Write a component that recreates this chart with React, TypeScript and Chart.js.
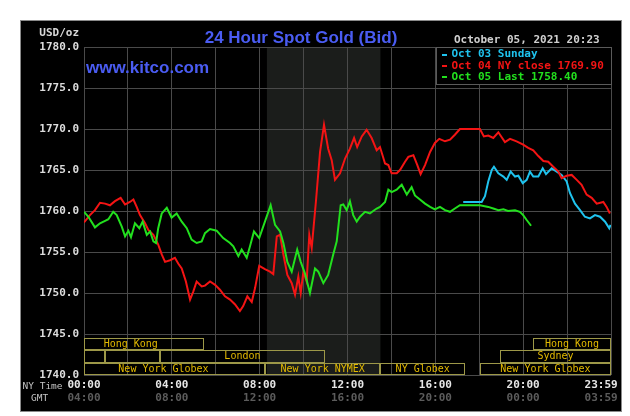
import React, { useEffect, useRef } from "react";
import { Chart, registerables } from "chart.js";

Chart.register(...registerables);

const titleText = "24 Hour Spot Gold (Bid)";
const siteText = "www.kitco.com";
const unitText = "USD/oz";
const stampText = "October 05, 2021 20:23";
const nyRowLabel = "NY Time";
const gmtRowLabel = "GMT";

const seriesLabels = ["Oct 03 Sunday", "Oct 04 NY close 1769.90", "Oct 05 Last 1758.40"];

// Oct 03 (Sunday evening session), hours in NY time
const oct03Hours = [17.27, 18.11, 18.26, 18.41, 18.57, 18.67, 18.87, 19.1, 19.25, 19.43, 19.63, 19.78, 19.98, 20.16, 20.31, 20.46, 20.69, 20.89, 21.04, 21.3, 21.53, 21.75, 21.98, 22.13, 22.36, 22.59, 22.81, 23.04, 23.27, 23.5, 23.73, 23.92, 23.98];
const oct03Values = [1761.1, 1761.1, 1761.8, 1763.6, 1765.0, 1765.4, 1764.6, 1764.2, 1763.8, 1764.8, 1764.2, 1764.3, 1763.4, 1763.8, 1764.8, 1764.2, 1764.2, 1765.2, 1764.5, 1765.2, 1764.8, 1764.4, 1763.6, 1762.2, 1760.9, 1760.1, 1759.3, 1759.1, 1759.5, 1759.3, 1758.7, 1757.9, 1758.3];

// Oct 04
const oct04Hours = [0.0, 0.27, 0.5, 0.73, 0.96, 1.18, 1.41, 1.67, 1.87, 2.09, 2.25, 2.4, 2.55, 2.78, 2.93, 3.16, 3.38, 3.54, 3.69, 3.92, 4.14, 4.29, 4.45, 4.64, 4.83, 4.98, 5.13, 5.36, 5.51, 5.74, 5.97, 6.19, 6.42, 6.65, 6.88, 7.1, 7.25, 7.44, 7.64, 7.79, 7.98, 8.24, 8.47, 8.62, 8.78, 8.93, 9.08, 9.26, 9.46, 9.61, 9.76, 9.87, 9.99, 10.14, 10.26, 10.37, 10.56, 10.75, 10.93, 11.12, 11.28, 11.43, 11.66, 11.89, 12.11, 12.3, 12.44, 12.65, 12.87, 13.1, 13.33, 13.48, 13.71, 13.86, 14.01, 14.24, 14.39, 14.62, 14.77, 15.0, 15.18, 15.33, 15.53, 15.76, 15.98, 16.18, 16.44, 16.67, 16.89, 17.12, 17.58, 18.03, 18.21, 18.41, 18.64, 18.87, 19.17, 19.4, 19.7, 20.0, 20.23, 20.46, 20.69, 20.92, 21.14, 21.37, 21.6, 21.75, 21.98, 22.21, 22.44, 22.66, 22.89, 23.12, 23.35, 23.65, 23.8, 23.95];
const oct04Values = [1758.6, 1759.5, 1760.1, 1761.0, 1760.9, 1760.7, 1761.2, 1761.6, 1760.8, 1761.1, 1761.4, 1760.5, 1759.5, 1758.5, 1757.7, 1757.1, 1755.9, 1754.7, 1753.8, 1754.0, 1754.3, 1753.6, 1753.0, 1751.4, 1749.2, 1750.2, 1751.4, 1750.8, 1750.9, 1751.4, 1751.0, 1750.4, 1749.6, 1749.2, 1748.6, 1747.8, 1748.4, 1749.6, 1748.9, 1750.6, 1753.3, 1752.9, 1752.6, 1752.3, 1756.9, 1757.1, 1754.7, 1752.2, 1751.2, 1749.8, 1752.0, 1750.0, 1752.6, 1751.4, 1757.1, 1755.5, 1761.1, 1767.2, 1770.5, 1767.6, 1766.2, 1763.8, 1764.6, 1766.4, 1767.6, 1768.9, 1767.8, 1769.1, 1769.9, 1768.9, 1767.4, 1767.8, 1765.8, 1765.6, 1764.6, 1764.6, 1765.0, 1766.0, 1766.6, 1766.8, 1765.6, 1764.5, 1765.6, 1767.2, 1768.3, 1768.8, 1768.5, 1768.7, 1769.3, 1770.0, 1770.0, 1770.0, 1769.1, 1769.2, 1768.9, 1769.6, 1768.4, 1768.8, 1768.5, 1768.1, 1767.7, 1767.4, 1766.7, 1766.1, 1766.0, 1765.4, 1764.8, 1764.0, 1764.3, 1764.4, 1763.8, 1763.2, 1762.0, 1761.6, 1760.9, 1761.1, 1760.5, 1759.7];

// Oct 05
const oct05Hours = [0.0, 0.2, 0.5, 0.73, 0.96, 1.11, 1.33, 1.49, 1.72, 1.87, 2.02, 2.14, 2.32, 2.52, 2.67, 2.86, 3.01, 3.16, 3.28, 3.38, 3.54, 3.77, 3.99, 4.22, 4.45, 4.68, 4.9, 5.13, 5.36, 5.51, 5.74, 6.04, 6.34, 6.65, 6.8, 7.03, 7.18, 7.41, 7.56, 7.74, 7.98, 8.24, 8.5, 8.7, 8.93, 9.08, 9.26, 9.46, 9.71, 9.87, 10.06, 10.29, 10.52, 10.67, 10.9, 11.12, 11.35, 11.51, 11.69, 11.81, 11.96, 12.11, 12.26, 12.42, 12.57, 12.8, 13.02, 13.17, 13.33, 13.48, 13.71, 13.86, 14.01, 14.24, 14.47, 14.7, 14.92, 15.07, 15.3, 15.53, 15.76, 15.98, 16.21, 16.44, 16.67, 16.89, 17.12, 17.58, 18.03, 18.41, 18.64, 18.87, 19.1, 19.31, 19.63, 19.85, 20.0, 20.16, 20.36];
const oct05Values = [1759.9, 1759.3, 1758.0, 1758.5, 1758.8, 1759.0, 1759.9, 1759.5, 1758.1, 1756.9, 1757.6, 1756.8, 1758.5, 1757.9, 1758.7, 1757.1, 1757.5, 1756.3, 1756.1, 1757.9, 1759.7, 1760.4, 1759.2, 1759.7, 1758.7, 1757.9, 1756.5, 1756.1, 1756.3, 1757.3, 1757.8, 1757.6, 1756.7, 1756.1, 1755.7, 1754.5, 1755.3, 1754.3, 1755.7, 1757.5, 1756.7, 1758.7, 1760.7, 1758.3, 1757.5, 1756.1, 1753.8, 1752.6, 1755.3, 1753.8, 1752.4, 1750.0, 1753.0, 1752.6, 1751.2, 1752.2, 1754.7, 1756.3, 1760.7, 1760.8, 1760.1, 1761.2, 1759.5, 1758.7, 1759.3, 1759.9, 1759.7, 1760.0, 1760.3, 1760.5, 1761.1, 1762.6, 1762.3, 1762.6, 1763.2, 1762.0, 1762.9, 1761.9, 1761.4, 1760.9, 1760.5, 1760.2, 1760.5, 1760.1, 1759.9, 1760.3, 1760.7, 1760.7, 1760.7, 1760.5, 1760.3, 1760.1, 1760.2, 1760.0, 1760.1, 1759.9, 1759.5, 1758.9, 1758.2];

// axis
const yMin = 1740;
const yMax = 1780;
const yStep = 5;
const hourMin = 0;
const hourMax = 24;
const gridStepHours = 2;
const tickHours = [0, 4, 8, 12, 16, 20, 24];
const nyTickLabels = ["00:00", "04:00", "08:00", "12:00", "16:00", "20:00", "23:59"];
const gmtTickLabels = ["04:00", "08:00", "12:00", "16:00", "20:00", "00:00", "03:59"];

// NYMEX floor session (shaded)
const nymexStart = 8.33;
const nymexEnd = 13.5;

// market sessions (hours NY time; may extend before the day start)
const sessionNames = ["Hong Kong", "Hong Kong", "", "", "London", "Sydney", "New York Globex", "New York NYMEX", "NY Globex", "New York Globex"];
const sessionStarts = [-1.2, 20.45, -1.0, 0.96, 3.46, 18.94, -1.0, 8.24, 13.5, 18.03];
const sessionEnds = [5.46, 24, 0.96, 3.46, 10.97, 24, 8.24, 13.5, 17.35, 24];
const sessionRows = [0, 0, 1, 1, 1, 1, 2, 2, 2, 2];

const CYAN = "#1fc3ee";
const RED = "#f41414";
const GREEN = "#22e01e";
const GRID = "#4a4a4a";
const MONO = "'DejaVu Sans Mono', monospace";
const SANS = "'Liberation Sans', Arial, sans-serif";

const zip = (xs: number[], ys: number[]) => xs.map((x, i) => ({ x, y: ys[i] }));

const chromePlugin = {
  id: "kitcoChrome",
  beforeDraw(chart: any) {
    const { ctx, chartArea: a, scales } = chart;
    ctx.save();
    ctx.fillStyle = "#ffffff";
    ctx.fillRect(0, 0, chart.width, chart.height);
    ctx.fillStyle = "#000000";
    ctx.fillRect(21, 21, 600, 390);
    ctx.strokeStyle = "#8a8a8a";
    ctx.lineWidth = 1;
    ctx.strokeRect(20.5, 20.5, 601, 391);
    const x0 = scales.x.getPixelForValue(nymexStart);
    const x1 = scales.x.getPixelForValue(nymexEnd);
    ctx.fillStyle = "#1b1d1b";
    ctx.fillRect(x0, a.top, x1 - x0, a.bottom - a.top);
    ctx.restore();
  },
  beforeDatasetsDraw(chart: any) {
    const { ctx, chartArea: a, scales } = chart;
    const rowH = 12.5;
    ctx.save();
    ctx.lineWidth = 1;
    ctx.font = `10px ${MONO}`;
    ctx.textAlign = "center";
    ctx.textBaseline = "middle";
    sessionNames.forEach((name, i) => {
      const r = sessionRows[i];
      const top = a.bottom - (3 - r) * rowH;
      const l = scales.x.getPixelForValue(Math.max(sessionStarts[i], hourMin));
      const rr = scales.x.getPixelForValue(Math.min(sessionEnds[i], hourMax));
      const yt = Math.round(top) + 0.5;
      const yb = Math.round(top + rowH) - 0.5;
      ctx.strokeStyle = "#9d9848";
      ctx.strokeRect(Math.round(l) + 0.5, yt, Math.round(rr) - Math.round(l) - 1, yb - yt);
      if (name) {
        const c = scales.x.getPixelForValue((sessionStarts[i] + sessionEnds[i]) / 2);
        ctx.fillStyle = "#e2b900";
        ctx.fillText(name, c, top + rowH / 2 + 0.5);
      }
    });
    ctx.restore();
  },
  afterDraw(chart: any) {
    const { ctx, chartArea: a } = chart;
    ctx.save();
    // title and site
    ctx.fillStyle = "#4a5cf2";
    ctx.font = `bold 17px ${SANS}`;
    ctx.textAlign = "center";
    ctx.textBaseline = "alphabetic";
    ctx.fillText(titleText, 301, 43);
    ctx.textAlign = "left";
    ctx.fillText(siteText, 86, 73);
    // unit and time stamp
    ctx.font = `bold 11px ${MONO}`;
    ctx.fillStyle = "#d8d8d8";
    ctx.textBaseline = "middle";
    ctx.textAlign = "right";
    ctx.fillText(unitText, 79, 33);
    ctx.textAlign = "left";
    ctx.fillStyle = "#d0d0d0";
    ctx.fillText(stampText, 454, 40);
    // legend box
    const lx = 436;
    ctx.fillStyle = "#000000";
    ctx.fillRect(lx, a.top, a.right - lx, 37);
    ctx.strokeStyle = "#5a5a5a";
    ctx.lineWidth = 1;
    ctx.strokeRect(lx + 0.5, a.top + 0.5, a.right - lx, 37);
    chart.data.datasets.forEach((ds: any, i: number) => {
      const cy = a.top + 7.5 + i * 11.3;
      ctx.fillStyle = ds.borderColor;
      ctx.fillRect(lx + 6, Math.round(cy) - 1, 5, 2);
      ctx.font = `bold 11px ${MONO}`;
      ctx.textAlign = "left";
      ctx.textBaseline = "middle";
      ctx.fillText(ds.label, lx + 15.5, cy);
    });
    // axis row captions
    ctx.font = `9.5px ${MONO}`;
    ctx.fillStyle = "#c4c4c4";
    ctx.textAlign = "left";
    ctx.textBaseline = "middle";
    ctx.fillText(nyRowLabel, 22.5, 387);
    ctx.fillText(gmtRowLabel, 31, 398.5);
    ctx.restore();
  },
};

export default function App() {
  const ref = useRef<HTMLCanvasElement | null>(null);

  useEffect(() => {
    if (!ref.current) return;
    const lastIdx = nyTickLabels.length - 1;
    const chart = new Chart(ref.current, {
      type: "line",
      data: {
        datasets: [
          { label: seriesLabels[0], data: zip(oct03Hours, oct03Values), borderColor: CYAN, backgroundColor: CYAN, borderWidth: 2, pointRadius: 0, tension: 0, order: 3, xAxisID: "x", yAxisID: "y" },
          { label: seriesLabels[1], data: zip(oct04Hours, oct04Values), borderColor: RED, backgroundColor: RED, borderWidth: 2, pointRadius: 0, tension: 0, order: 2, xAxisID: "x", yAxisID: "y" },
          { label: seriesLabels[2], data: zip(oct05Hours, oct05Values), borderColor: GREEN, backgroundColor: GREEN, borderWidth: 2, pointRadius: 0, tension: 0, order: 1, xAxisID: "x", yAxisID: "y" },
        ],
      },
      options: {
        animation: false,
        responsive: false,
        devicePixelRatio: 1,
        events: [],
        layout: { padding: { left: 21, top: 47, right: 19, bottom: 13 } },
        plugins: { legend: { display: false }, tooltip: { enabled: false }, title: { display: false } },
        scales: {
          x: {
            type: "linear",
            min: hourMin,
            max: hourMax,
            position: "bottom",
            weight: 0,
            ticks: { display: false, stepSize: gridStepHours },
            grid: { color: GRID, drawTicks: false },
            border: { display: false },
            afterFit: (s: any) => { s.height = 0; s.paddingLeft = 0; s.paddingRight = 0; },
          },
          xNY: {
            type: "linear",
            min: hourMin,
            max: hourMax,
            position: "bottom",
            weight: 1,
            grid: { display: false, drawTicks: false },
            border: { display: false },
            afterBuildTicks: (s: any) => { s.ticks = tickHours.map((v) => ({ value: v })); },
            ticks: {
              autoSkip: false,
              maxRotation: 0,
              padding: 4,
              color: "#e6e6e6",
              font: { family: MONO, size: 11, weight: "bold" },
              callback: (_v: any, i: number) => (i === lastIdx ? nyTickLabels[i] + "   " : nyTickLabels[i]),
            },
            afterFit: (s: any) => { s.height = 14; s.paddingLeft = 0; s.paddingRight = 0; },
          },
          xGMT: {
            type: "linear",
            min: hourMin,
            max: hourMax,
            position: "bottom",
            weight: 2,
            grid: { display: false, drawTicks: false },
            border: { display: false },
            afterBuildTicks: (s: any) => { s.ticks = tickHours.map((v) => ({ value: v })); },
            ticks: {
              autoSkip: false,
              maxRotation: 0,
              padding: 3,
              color: "#5c5c5c",
              font: { family: MONO, size: 11, weight: "bold" },
              callback: (_v: any, i: number) => (i === lastIdx ? gmtTickLabels[i] + "   " : gmtTickLabels[i]),
            },
            afterFit: (s: any) => { s.height = 14; s.paddingLeft = 0; s.paddingRight = 0; },
          },
          y: {
            type: "linear",
            min: yMin,
            max: yMax,
            position: "left",
            ticks: {
              stepSize: yStep,
              padding: 5,
              color: "#dcdcdc",
              font: { family: MONO, size: 11, weight: "bold" },
              callback: (v: any) => Number(v).toFixed(1),
            },
            grid: { color: GRID, drawTicks: false },
            border: { display: false },
            afterFit: (s: any) => { s.width = 63; },
          },
        },
      } as any,
      plugins: [chromePlugin as any],
    });
    return () => chart.destroy();
  }, []);

  return (
    <div style={{ position: "absolute", left: 0, top: 0, width: 630, height: 416 }}>
      <canvas ref={ref} width={630} height={416} style={{ display: "block" }} />
    </div>
  );
}
